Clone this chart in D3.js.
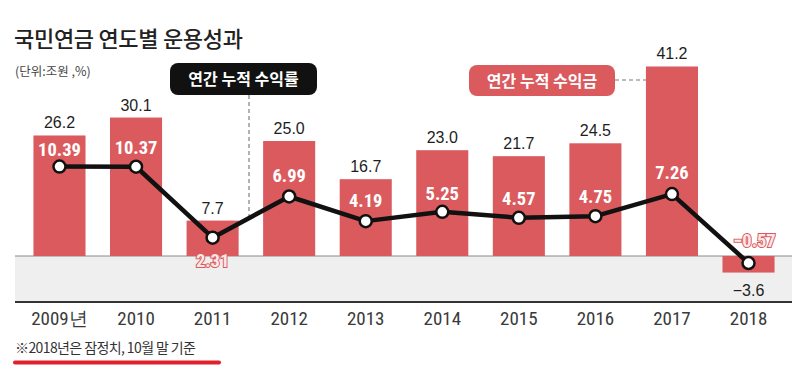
<!DOCTYPE html>
<html><head><meta charset="utf-8">
<script src="https://cdn.jsdelivr.net/npm/d3@7"></script>
<style>
body{margin:0;background:#fff;}
svg{display:block;}
</style></head>
<body>
<svg id="c" width="800" height="375"></svg>
<script>
const years = ["2009년","2010","2011","2012","2013","2014","2015","2016","2017","2018"];
const profit = [26.2,30.1,7.7,25.0,16.7,23.0,21.7,24.5,41.2,-3.6];
const rate = [10.39,10.37,2.31,6.99,4.19,5.25,4.57,4.75,7.26,-0.57];
const title = "국민연금 연도별 운용성과";
const unit = "(단위:조원 ,%)";
const legendRate = "연간 누적 수익률";
const legendProfit = "연간 누적 수익금";
const note = "※2018년은 잠정치, 10월 말 기준";

const BAR = "#da5a5e";
const COND = "'Roboto Condensed','Liberation Sans',sans-serif";
const SANS = "'Liberation Sans',Arial,sans-serif";
const KR = "'Noto Sans CJK KR','Noto Sans',sans-serif";

const svg = d3.select("#c");
const x = d3.scaleBand().domain(years).range([21.2,786.8]).paddingInner(0.32).paddingOuter(0.16);
const yL = d3.scaleLinear().domain([-10,45]).range([302,49]);
const yR = d3.scaleLinear().domain([-5,20]).range([302,82]);
const cx = d => x(d)+x.bandwidth()/2;

// gray negative band
svg.append("rect").attr("x",15).attr("y",yL(0)).attr("width",777).attr("height",yL(-10)-yL(0)).attr("fill","#efefef");
svg.append("line").attr("x1",15).attr("x2",792).attr("y1",yL(0)).attr("y2",yL(0)).attr("stroke","#8a8a8a").attr("stroke-width",1);

// bars
svg.selectAll("rect.bar").data(years).join("rect").attr("class","bar")
  .attr("x",d=>x(d)).attr("width",x.bandwidth())
  .attr("y",(d,i)=>yL(Math.max(0,profit[i])))
  .attr("height",(d,i)=>Math.abs(yL(profit[i])-yL(0)))
  .attr("fill",BAR);

// axis
const axis = svg.append("g").attr("transform",`translate(0,${yL(-10)})`)
  .call(d3.axisBottom(x).tickSize(0).tickPadding(22));
axis.select(".domain").remove();
svg.append("line").attr("x1",15).attr("x2",792).attr("y1",yL(-10)).attr("y2",yL(-10)).attr("stroke","#333").attr("stroke-width",2.2);
axis.selectAll("text").attr("font-family",COND).attr("font-size",19).attr("fill","#3a3a3a").attr("dy","0.05em");

// bar value labels
svg.selectAll("text.pv").data(profit).join("text").attr("class","pv")
  .attr("x",(d,i)=>cx(years[i]))
  .attr("y",d=>d>=0 ? yL(d)-7 : yL(d)+23)
  .attr("text-anchor","middle").attr("font-family",SANS).attr("font-size",16).attr("fill","#1e1e1e")
  .text(d=>(d<0?"−":"")+Math.abs(d).toFixed(1));

// dashed leader lines
const lx = 249;
const ly = yR(rate[2])+(yR(rate[3])-yR(rate[2]))*((lx-cx(years[2]))/x.step());
svg.append("line").attr("x1",lx).attr("x2",lx).attr("y1",95).attr("y2",ly)
  .attr("stroke","#666").attr("stroke-width",1).attr("stroke-dasharray","4,3");
svg.append("line").attr("x1",615).attr("x2",x(years[8])).attr("y1",80).attr("y2",80)
  .attr("stroke","#777").attr("stroke-width",1.2).attr("stroke-dasharray","4,3");

// line
const line = d3.line().x((d,i)=>cx(years[i])).y(d=>yR(d));
svg.append("path").datum(rate).attr("d",line).attr("fill","none").attr("stroke","#111").attr("stroke-width",4.5).attr("stroke-linejoin","round");
svg.selectAll("circle.pt").data(rate).join("circle").attr("class","pt")
  .attr("cx",(d,i)=>cx(years[i])).attr("cy",d=>yR(d)).attr("r",6)
  .attr("fill","#fff").attr("stroke","#111").attr("stroke-width",2.5);

// rate labels
const rdx = [0,0,0,0,0,0,0,0,0,6];
const rdy = [-11,-13,29,-14,-14,-12,-13,-13,-15,-16];
svg.selectAll("text.rv").data(rate).join("text").attr("class","rv")
  .attr("x",(d,i)=>cx(years[i])+rdx[i]).attr("y",(d,i)=>yR(d)+rdy[i])
  .attr("text-anchor","middle").attr("font-family",COND).attr("font-weight","bold").attr("font-size",18.5)
  .attr("fill",(d,i)=> (i===2||i===9) ? "#fde8e8" : "#fff")
  .attr("stroke",(d,i)=> (i===2||i===9) ? BAR : "none").attr("stroke-width",2).attr("paint-order","stroke")
  .text(d=>(d<0?"−":"")+Math.abs(d).toFixed(2));

// legend boxes
svg.append("rect").attr("x",170).attr("y",63).attr("width",147).attr("height",32).attr("rx",8).attr("fill","#111");
svg.append("text").attr("x",243.5).attr("y",85).attr("text-anchor","middle").attr("font-family",KR).attr("font-weight","bold").attr("font-size",16).attr("fill","#fff").text(legendRate);
svg.append("rect").attr("x",469).attr("y",65).attr("width",146).attr("height",31).attr("rx",8).attr("fill",BAR);
svg.append("text").attr("x",542).attr("y",86.5).attr("text-anchor","middle").attr("font-family",KR).attr("font-weight","bold").attr("font-size",16).attr("fill","#fff").text(legendProfit);

// titles
svg.append("text").attr("x",14).attr("y",47).attr("font-family",KR).attr("font-weight",500).attr("font-size",22).attr("fill","#222").attr("letter-spacing",-0.3).text(title);
svg.append("text").attr("x",15).attr("y",76).attr("font-family",KR).attr("font-size",12.5).attr("fill","#444").text(unit);

// footnote
svg.append("text").attr("x",15).attr("y",353).attr("font-family",KR).attr("font-size",14).attr("fill","#333").attr("letter-spacing",-0.6).text(note);
svg.append("line").attr("x1",15).attr("x2",219).attr("y1",362.5).attr("y2",362.5).attr("stroke","#e0202a").attr("stroke-width",4).attr("stroke-linecap","round");
</script>
</body></html>
